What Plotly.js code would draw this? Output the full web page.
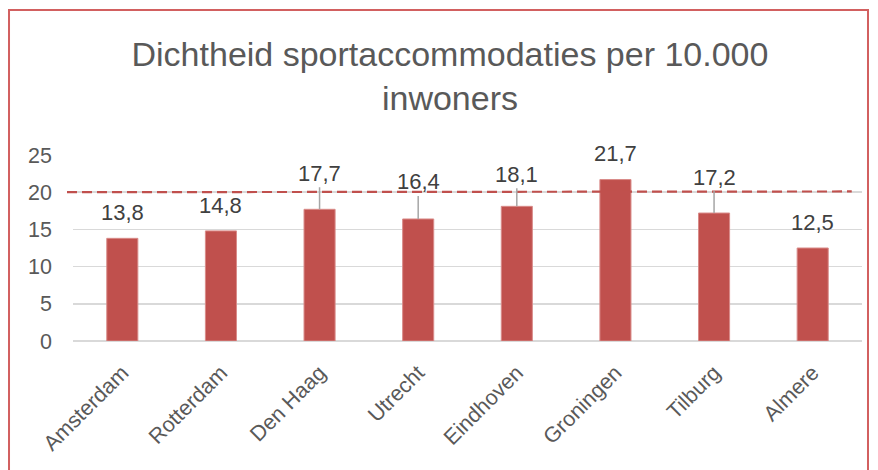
<!DOCTYPE html>
<html>
<head>
<meta charset="utf-8">
<script src="https://cdn.plot.ly/plotly-3.0.1.min.js"></script>
<style>html,body{margin:0;padding:0;background:#fff}#chart{width:878px;height:470px}</style>
</head>
<body>
<div id="chart"></div>
<script>
// Data
const cities = ['Amsterdam','Rotterdam','Den Haag','Utrecht','Eindhoven','Groningen','Tilburg','Almere'];
const density = [13.8, 14.8, 17.7, 16.4, 18.1, 21.7, 17.2, 12.5];
const normStart = 20.0;
const normEnd = 20.1;
const yTicks = [0, 5, 10, 15, 20, 25];
const titleText = 'Dichtheid sportaccommodaties per 10.000<br>inwoners';

// Label placement (pixels above bar top) and leader lines
const labelOffset = [-26, -25, -36, -37, -32, -26, -36, -26];
const hasLeader = [false, false, true, true, true, false, true, false];

const FONT = 'Liberation Sans, Arial, sans-serif';
const TXT = '#595959';
const RED = '#C0504D';

const annotations = cities.map((c, i) => ({
  x: c, y: density[i], xref: 'x', yref: 'y',
  text: density[i].toFixed(1).replace('.', ','),
  showarrow: true, arrowhead: 0, ax: 0, ay: labelOffset[i],
  arrowwidth: 1.5, standoff: 0,
  arrowcolor: hasLeader[i] ? '#a6a6a6' : 'rgba(0,0,0,0)',
  font: {family: FONT, size: 22, color: '#404040'}
}));

const trace = {
  type: 'bar', x: cities, y: density,
  marker: {color: RED, line: {color: '#d98b89', width: 1}},
  hoverinfo: 'skip'
};

const layout = {
  width: 878, height: 470,
  margin: {l: 73, r: 16, t: 155, b: 129},
  paper_bgcolor: '#fff', plot_bgcolor: '#fff',
  bargap: 0.685,
  showlegend: false,
  font: {family: FONT, color: TXT, size: 21},
  title: {
    text: titleText,
    font: {family: FONT, size: 34, color: TXT},
    xref: 'container', x: 0.5125, xanchor: 'center',
    yref: 'container', y: 1 - 66/470, yanchor: 'top'
  },
  xaxis: {
    type: 'category', tickangle: -45, showgrid: false, zeroline: false,
    showline: false, ticks: '', ticklabelstandoff: 14,
    tickfont: {family: FONT, size: 21.5, color: TXT},
    fixedrange: true
  },
  yaxis: {
    range: [0, 25], tickvals: yTicks, ticktext: yTicks.map(String),
    showgrid: true, gridcolor: '#d9d9d9', gridwidth: 1.5,
    zeroline: true, zerolinecolor: '#d9d9d9', zerolinewidth: 1.5,
    showline: false, ticks: '', ticklabelstandoff: 20,
    tickfont: {family: FONT, size: 21.5, color: TXT}, fixedrange: true
  },
  shapes: [
    {type: 'line', xref: 'paper', yref: 'y', x0: -0.0076, x1: 0.987,
     y0: normStart, y1: normEnd, layer: 'above',
     line: {color: RED, width: 2.2, dash: '10px,5px'}},
    {type: 'rect', xref: 'paper', yref: 'paper',
     x0: -0.0811, x1: 1.0076, y0: -1.0, y1: 1.7796, layer: 'above',
     line: {color: '#d26060', width: 2}, fillcolor: 'rgba(0,0,0,0)'}
  ],
  annotations: annotations
};

Plotly.newPlot('chart', [trace], layout, {staticPlot: true, displayModeBar: false});
</script>
</body>
</html>
